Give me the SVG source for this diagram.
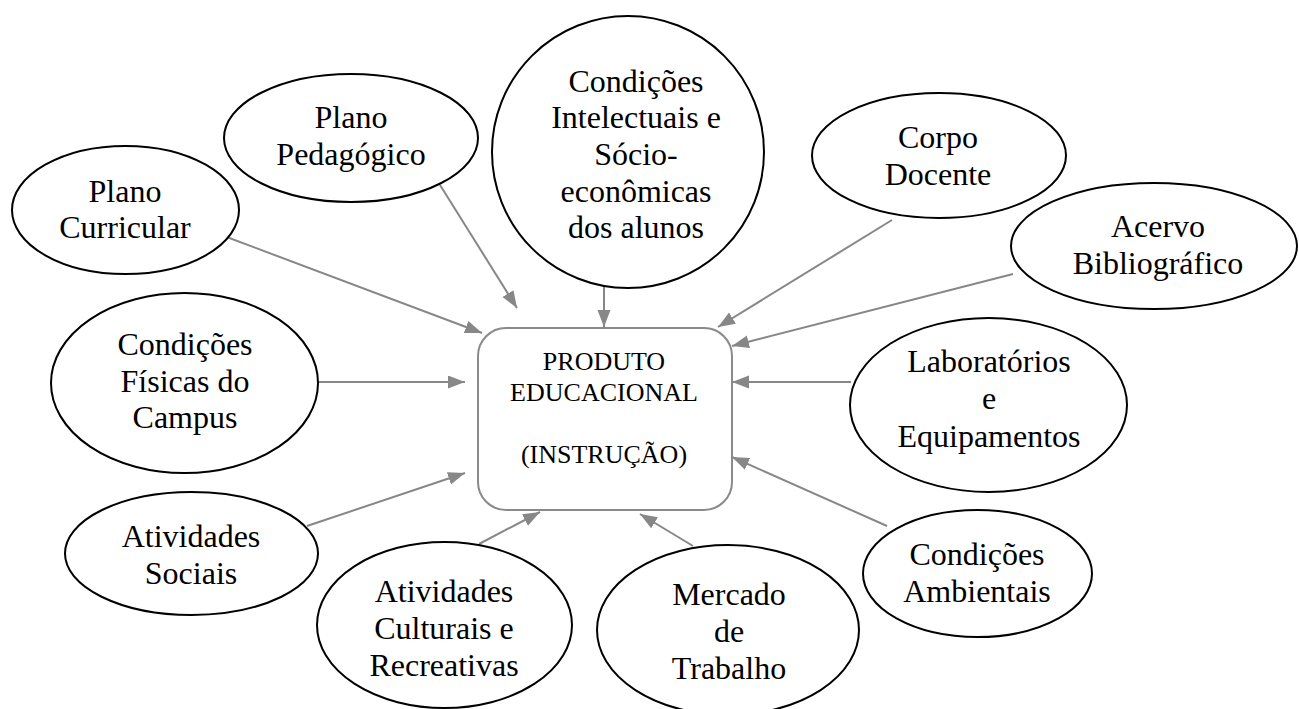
<svg xmlns="http://www.w3.org/2000/svg" width="1299" height="709" viewBox="0 0 1299 709">
<style>
.node ellipse{fill:#fff;stroke:#000;stroke-width:2}
.box{fill:#fff;stroke:#8a8a8a;stroke-width:2}
text{font-family:"Liberation Serif","Times New Roman",serif;font-size:32px;fill:#000;text-anchor:middle}
.c text{font-size:26px}
#connectors line{stroke:#878787;stroke-width:2;marker-end:url(#ah)}
</style>
<defs>
<marker id="ah" markerUnits="userSpaceOnUse" markerWidth="18" markerHeight="14" refX="17" refY="6.5" orient="auto">
<path d="M0,0 L17,6.5 L0,13 z" fill="#878787"/>
</marker>
</defs>
<rect width="1299" height="709" fill="#fff"/>
<g id="connectors">
<line x1="224" y1="236" x2="482" y2="333"/>
<line x1="440" y1="185" x2="517" y2="308"/>
<line x1="604" y1="270" x2="604" y2="327"/>
<line x1="892" y1="220" x2="718" y2="327"/>
<line x1="1013" y1="274" x2="732" y2="346"/>
<line x1="851" y1="382" x2="732" y2="382"/>
<line x1="887" y1="526" x2="732" y2="457"/>
<line x1="693" y1="546" x2="640" y2="514"/>
<line x1="479" y1="544" x2="540" y2="512"/>
<line x1="307" y1="526" x2="465" y2="473"/>
<line x1="318" y1="382" x2="465" y2="382"/>
</g>
<g id="produto" class="c">
<rect class="box" x="478" y="328" width="254" height="182" rx="28" ry="28"/>
<text x="604" y="370">PRODUTO</text>
<text x="604" y="401">EDUCACIONAL</text>
<text x="604" y="463">(INSTRUÇÃO)</text>
</g>
<g id="plano-curricular" class="node">
<ellipse cx="125.5" cy="210" rx="113.5" ry="64"/>
<text x="125" y="202">Plano</text>
<text x="125" y="238">Curricular</text>
</g>
<g id="plano-pedagogico" class="node">
<ellipse cx="351" cy="138" rx="127" ry="64"/>
<text x="351" y="128">Plano</text>
<text x="351" y="165">Pedagógico</text>
</g>
<g id="condicoes-intelectuais" class="node">
<ellipse cx="628" cy="152" rx="136" ry="136"/>
<text x="636" y="92">Condições</text>
<text x="636" y="128">Intelectuais e</text>
<text x="636" y="165">Sócio-</text>
<text x="636" y="202">econômicas</text>
<text x="636" y="238">dos alunos</text>
</g>
<g id="corpo-docente" class="node">
<ellipse cx="939" cy="155.5" rx="127" ry="62.5"/>
<text x="938" y="148">Corpo</text>
<text x="938" y="185">Docente</text>
</g>
<g id="acervo" class="node">
<ellipse cx="1154" cy="246" rx="143" ry="63"/>
<text x="1158" y="237">Acervo</text>
<text x="1158" y="274">Bibliográfico</text>
</g>
<g id="laboratorios" class="node">
<ellipse cx="988.5" cy="405" rx="138.5" ry="87"/>
<text x="989" y="372">Laboratórios</text>
<text x="989" y="409">e</text>
<text x="989" y="447">Equipamentos</text>
</g>
<g id="condicoes-ambientais" class="node">
<ellipse cx="977.5" cy="573.5" rx="114.5" ry="63.5"/>
<text x="977" y="565">Condições</text>
<text x="977" y="602">Ambientais</text>
</g>
<g id="mercado" class="node">
<ellipse cx="728" cy="630" rx="131" ry="85"/>
<text x="729" y="605">Mercado</text>
<text x="729" y="642">de</text>
<text x="729" y="679">Trabalho</text>
</g>
<g id="atividades-culturais" class="node">
<ellipse cx="444.5" cy="625" rx="127.5" ry="83"/>
<text x="444" y="602">Atividades</text>
<text x="444" y="639">Culturais e</text>
<text x="444" y="676">Recreativas</text>
</g>
<g id="atividades-sociais" class="node">
<ellipse cx="191.5" cy="553.5" rx="126.5" ry="61.5"/>
<text x="191" y="547">Atividades</text>
<text x="191" y="584">Sociais</text>
</g>
<g id="condicoes-fisicas" class="node">
<ellipse cx="184.5" cy="383" rx="133.5" ry="90"/>
<text x="185" y="355">Condições</text>
<text x="185" y="392">Físicas do</text>
<text x="185" y="428">Campus</text>
</g>
</svg>
